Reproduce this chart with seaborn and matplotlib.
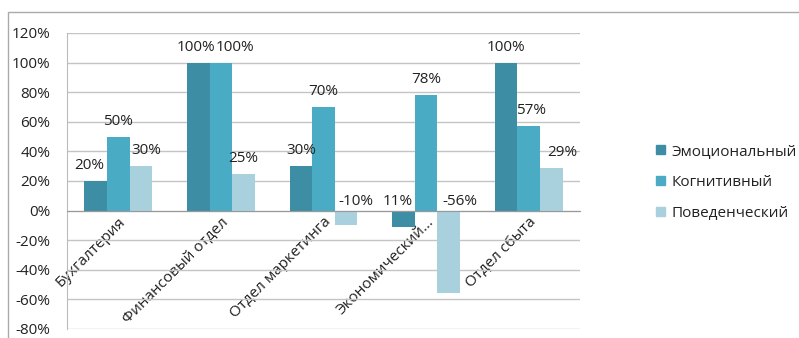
import matplotlib
matplotlib.use("Agg")
import matplotlib.pyplot as plt
import seaborn as sns
import pandas as pd
from matplotlib.patches import Rectangle
from matplotlib.ticker import FixedLocator, FuncFormatter

categories = ["Бухгалтерия", "Финансовый отдел", "Отдел маркетинга", "Экономический...", "Отдел сбыта"]
series = ["Эмоциональный", "Когнитивный", "Поведенческий"]
emotional = [20, 100, 30, -11, 100]
cognitive = [50, 100, 70, 78, 57]
behavioral = [30, 25, -10, -56, 29]
label_emotional = ["20%", "100%", "30%", "11%", "100%"]
label_cognitive = ["50%", "100%", "70%", "78%", "57%"]
label_behavioral = ["30%", "25%", "-10%", "-56%", "29%"]
yticks = [-80, -60, -40, -20, 0, 20, 40, 60, 80, 100, 120]

# horizontal nudges (pixels) of the data labels, per series, to avoid overlaps
nudge = [[-6, -2, 0, -6, 0],
         [0, 14, 0, 0, 2],
         [5, 0, 10, 11, 11]]

colors = ["#3D8EA4", "#4AABC5", "#A9D0DD"]

rows = []
for name, vals in zip(series, [emotional, cognitive, behavioral]):
    for c, v in zip(categories, vals):
        rows.append({"cat": c, "series": name, "value": v})
df = pd.DataFrame(rows)

sns.set_style("white")
plt.rcParams["font.family"] = ["Open Sans", "DejaVu Sans"]
FS = 11

fig = plt.figure(figsize=(7.99, 3.38), dpi=100)
W, H = 799, 338
ax = fig.add_axes([67 / W, 1 - 329 / H, (580 - 67) / W, (329 - 33) / H])

sns.barplot(data=df, x="cat", y="value", hue="series", order=categories,
            hue_order=series, palette=colors, width=0.66, gap=0,
            saturation=1, ax=ax, legend=False, edgecolor="none", linewidth=0)

ax.set_ylim(-80, 120)
ax.set_xlim(-0.5, len(categories) - 0.5)
ax.set_yticks(yticks)
ax.yaxis.set_major_formatter(FuncFormatter(lambda v, p: f"{int(v)}%"))
ax.tick_params(axis="y", length=0, labelsize=FS, colors="#222222", pad=12)
ax.grid(axis="y", color="#C4C4C4", linewidth=1)
ax.set_axisbelow(True)
ax.set_xlabel("")
ax.set_ylabel("")

for s in ["top", "right"]:
    ax.spines[s].set_visible(False)
ax.spines["left"].set_color("#BBBBBB")
ax.spines["bottom"].set_position(("data", 0))
ax.spines["bottom"].set_color("#999999")

ax.set_xticks(range(len(categories)))
ax.set_xticklabels(categories, rotation=45, ha="right", rotation_mode="anchor",
                   fontsize=FS, color="#222222")
ax.tick_params(axis="x", which="major", length=0, pad=3)
ax.xaxis.set_minor_locator(FixedLocator([i + 0.5 for i in range(-1, len(categories))]))
ax.tick_params(axis="x", which="minor", length=5, color="#999999", direction="out")

all_labels = [label_emotional, label_cognitive, label_behavioral]
for container, labs, nd in zip(ax.containers, all_labels, nudge):
    for bar, lab, dx in zip(container, labs, nd):
        v = bar.get_height()
        x = bar.get_x() + bar.get_width() / 2
        dxp = dx * 72 / 100
        if v >= 0:
            ax.annotate(lab, (x, v), xytext=(dxp, 11), textcoords="offset points",
                        ha="center", va="center", fontsize=FS, color="#222222")
        else:
            ax.annotate(lab, (x, 0), xytext=(dxp, 6.5), textcoords="offset points",
                        ha="center", va="center", fontsize=FS, color="#222222")

handles = [Rectangle((0, 0), 1, 1, color=c) for c in colors]
fig.legend(handles, series, loc="upper left", bbox_to_anchor=(650 / W, 1 - 138 / H),
           frameon=False, fontsize=FS, handlelength=0.55, handleheight=0.55,
           handletextpad=0.45, labelspacing=1.05, labelcolor="#222222",
           borderaxespad=0)

frame = Rectangle((8 / W, -0.1), 1.0, 1.1 - 12 / H, transform=fig.transFigure,
                  fill=False, edgecolor="#AAAAAA", linewidth=1)
fig.patches.append(frame)

fig.savefig("out.png", dpi=100)
